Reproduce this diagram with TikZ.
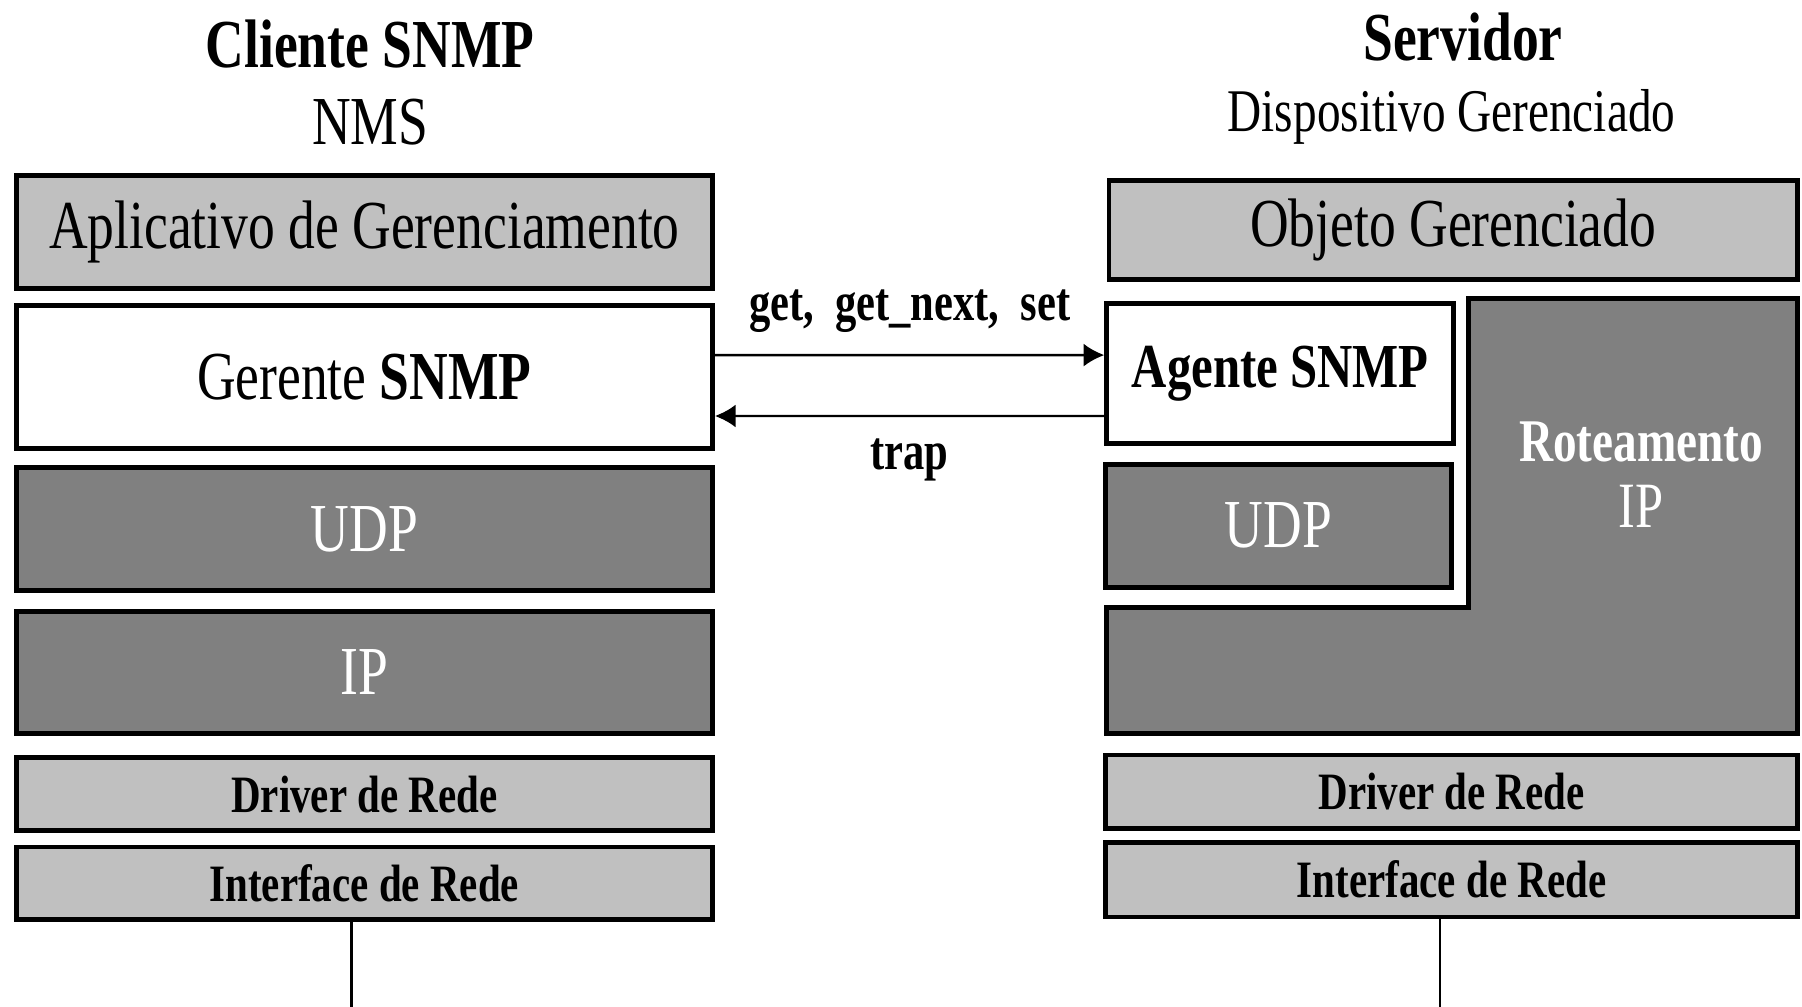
\documentclass[tikz,border=0pt]{standalone}
\usepackage{fontspec}
\setmainfont{Liberation Serif}
\usetikzlibrary{arrows.meta}
\definecolor{claro}{HTML}{C0C0C0}
\definecolor{escuro}{HTML}{808080}
\newcommand{\cond}[1]{\scalebox{0.78}[1]{#1}}

\begin{document}
\begin{tikzpicture}[auto,
    layer/.style ={rectangle, draw, line width=1.2pt, inner sep=0pt},
    claro/.style ={layer, fill=claro},
    escuro/.style ={layer, fill=escuro, text=white},
    branco/.style ={layer, fill=white},
    grande/.style ={font=\fontsize{17}{20}\selectfont},
    medio/.style ={font=\fontsize{15}{19}\selectfont},
    pequeno/.style ={font=\fontsize{13}{16}\selectfont\bfseries},
    rotulo/.style ={font=\fontsize{13.5}{16}\selectfont\bfseries},
    msg/.style ={line width=0.6pt, -{Latex[length=0.18cm, width=0.2cm]}}]
   \useasboundingbox (0,0) rectangle (15.68,8.76);
   % titulos
   \node[font=\fontsize{17}{20}\selectfont\bfseries] (cli) at (3.22,8.38) {\cond{Cliente SNMP}};
   \node[grande] (nms) at (3.22,7.70) {\cond{NMS}};
   \node[font=\fontsize{17}{20}\selectfont\bfseries] (srv) at (12.73,8.44) {\cond{Servidor}};
   \node[medio] (disp) at (12.63,7.74) {\cond{Dispositivo Gerenciado}};
   % cliente
   \node[claro, grande, minimum width=6.06cm, minimum height=0.98cm] (apl) at (3.17,6.74) {\cond{Aplicativo de Gerenciamento}};
   \node[branco, grande, minimum width=6.06cm, minimum height=1.24cm] (ger) at (3.17,5.48) {\cond{Gerente \textbf{SNMP}}};
   \node[escuro, grande, minimum width=6.06cm, minimum height=1.07cm] (udpL) at (3.17,4.155) {\cond{UDP}};
   \node[escuro, grande, minimum width=6.06cm, minimum height=1.06cm] (ipL) at (3.17,2.91) {\cond{IP}};
   \node[claro, pequeno, minimum width=6.06cm, minimum height=0.64cm] (drvL) at (3.17,1.85) {\cond{Driver de Rede}};
   \node[claro, pequeno, minimum width=6.06cm, minimum height=0.63cm] (ifL) at (3.17,1.075) {\cond{Interface de Rede}};
   % servidor
   \node[claro, grande, minimum width=5.99cm, minimum height=0.86cm] (obj) at (12.645,6.76) {\cond{Objeto Gerenciado}};
   \draw[line width=1.2pt, fill=escuro] (9.63,2.38) -- (15.64,2.38) -- (15.64,6.16)
      -- (12.78,6.16) -- (12.78,3.47) -- (9.63,3.47) -- cycle;
   \node[text=white, font=\fontsize{15}{16.5}\selectfont\bfseries, align=center] (rot) at (14.28,4.63) {\cond{Roteamento}\\{\mdseries\fontsize{16}{16.5}\selectfont\cond{IP}}};
   \node[branco, font=\fontsize{15.5}{19}\selectfont\bfseries, minimum width=3.02cm, minimum height=1.22cm] (age) at (11.14,5.51) {\cond{Agente SNMP}};
   \node[escuro, grande, minimum width=3.01cm, minimum height=1.07cm] (udpR) at (11.125,4.185) {\cond{UDP}};
   \node[claro, pequeno, minimum width=6.02cm, minimum height=0.64cm] (drvR) at (12.63,1.87) {\cond{Driver de Rede}};
   \node[claro, pequeno, minimum width=6.02cm, minimum height=0.65cm] (ifR) at (12.63,1.105) {\cond{Interface de Rede}};
   % mensagens
   \draw[msg] ([yshift=0.19cm]ger.east) -- node[rotulo, above=2pt] {\cond{get,\ \ get\_next,\ \ set}} ([yshift=0.16cm]age.west);
   \draw[msg] ([yshift=-0.37cm]age.west) -- node[rotulo, below=2pt] {\cond{trap}} ([yshift=-0.34cm]ger.east);
   % rede
   \coordinate (fimL) at (3.06,0);
   \coordinate (fimR) at (12.53,0);
   \draw[line width=0.6pt] (ifL.south -| fimL) -- (fimL);
   \draw[line width=0.6pt] (ifR.south -| fimR) -- (fimR);
 \end{tikzpicture}
\end{document}
